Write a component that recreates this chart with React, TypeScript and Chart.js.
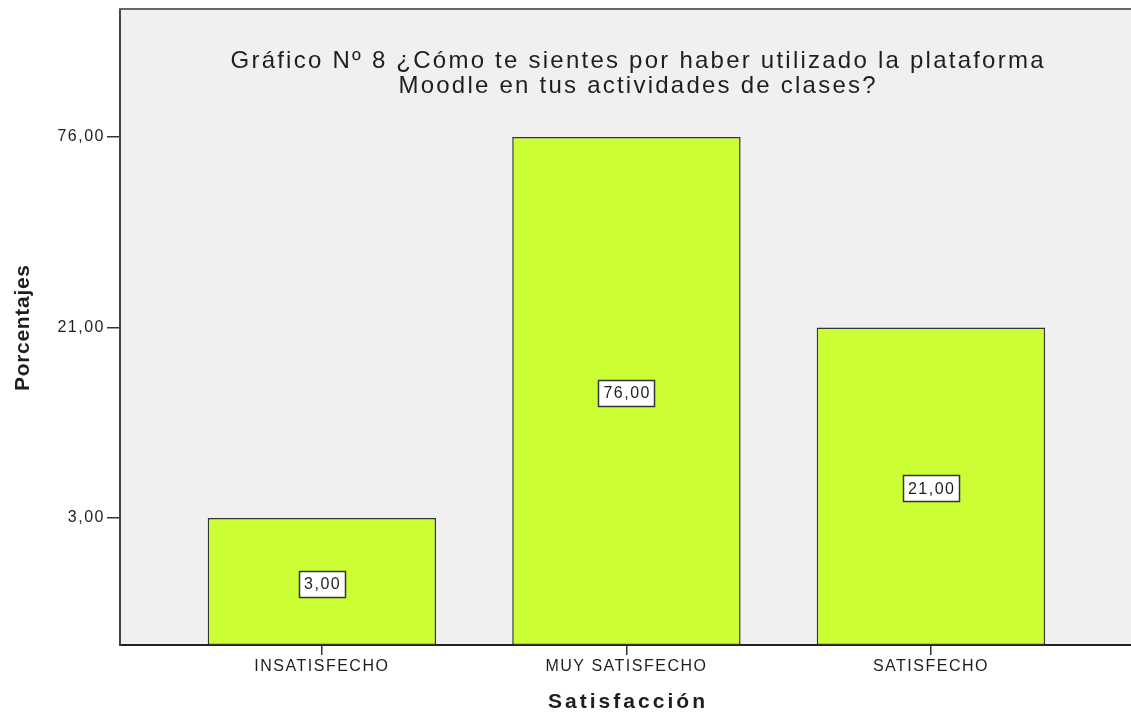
import React, { useEffect, useRef } from 'react';
import { Chart, registerables, LinearScale } from 'chart.js';

Chart.register(...registerables);

// ---------- data ----------
const CATEGORIES = ['INSATISFECHO', 'MUY SATISFECHO', 'SATISFECHO'];
const VALUES = [3, 76, 21];
const Y_TICKS = [3, 21, 76];
const TITLE_LINES = [
  'Gráfico Nº 8 ¿Cómo te sientes por haber utilizado la plataforma',
  'Moodle en tus actividades de clases?',
];
const X_TITLE = 'Satisfacción';
const Y_TITLE = 'Porcentajes';

// ---------- ordinal value axis (SPSS-style: each distinct value one step) ----------
const RANK_OFFSET = 2 / 3;
const RANK_TOP = 3.339;
const ANCHOR_VALUES = [0, ...Y_TICKS];
const ANCHOR_RANKS = [0, ...Y_TICKS.map((_, i) => i + RANK_OFFSET)];

function toRank(v: number): number {
  const vs = ANCHOR_VALUES;
  const rs = ANCHOR_RANKS;
  if (v <= vs[0]) return rs[0];
  for (let i = 1; i < vs.length; i++) {
    if (v <= vs[i]) {
      return rs[i - 1] + ((v - vs[i - 1]) / (vs[i] - vs[i - 1])) * (rs[i] - rs[i - 1]);
    }
  }
  const n = vs.length - 1;
  return rs[n] + ((v - vs[n]) / (vs[n] - vs[n - 1])) * (rs[n] - rs[n - 1]);
}
function fromRank(r: number): number {
  const vs = ANCHOR_VALUES;
  const rs = ANCHOR_RANKS;
  if (r <= rs[0]) return vs[0];
  for (let i = 1; i < rs.length; i++) {
    if (r <= rs[i]) {
      return vs[i - 1] + ((r - rs[i - 1]) / (rs[i] - rs[i - 1])) * (vs[i] - vs[i - 1]);
    }
  }
  const n = rs.length - 1;
  return vs[n] + ((r - rs[n]) / (rs[n] - rs[n - 1])) * (vs[n] - vs[n - 1]);
}

class RankScale extends LinearScale {
  getPixelForValue(value: any) {
    if (value === null || value === undefined || isNaN(value)) return NaN;
    return this.getPixelForDecimal(toRank(value) / RANK_TOP);
  }
  getValueForPixel(pixel: number) {
    return fromRank(this.getDecimalForPixel(pixel) * RANK_TOP);
  }
}
(RankScale as any).id = 'rank';
(RankScale as any).defaults = (LinearScale as any).defaults;
Chart.register(RankScale as any);

// ---------- styling ----------
const FONT_FAMILY = '"Liberation Sans", Arial, Helvetica, sans-serif';
const TEXT_COLOR = '#1e1e1e';
const BAR_COLOR = '#ccff33';
const PLOT_BG = '#f0f0f0';
const X_MIN = -0.663;
const X_MAX = 2.657;
const TITLE_CX = 637;
const TICK_SPACING = 1.5;

const fmt = (v: number) => v.toFixed(2).replace('.', ',');

function drawSpaced(
  ctx: CanvasRenderingContext2D,
  text: string,
  cx: number,
  y: number,
  font: string,
  target: number | null,
  spacing?: number
) {
  ctx.save();
  ctx.font = font;
  (ctx as any).letterSpacing = '0px';
  const w0 = ctx.measureText(text).width;
  const n = text.length;
  const sp = target !== null ? (target - w0) / Math.max(1, n - 1) : spacing || 0;
  (ctx as any).letterSpacing = sp + 'px';
  const vis = w0 + (n - 1) * sp;
  ctx.textAlign = 'left';
  ctx.fillText(text, cx - vis / 2, y);
  ctx.restore();
  return sp;
}

const customPlugin = {
  id: 'spssDecor',
  beforeDraw(chart: any) {
    const { ctx, chartArea } = chart;
    ctx.save();
    ctx.fillStyle = PLOT_BG;
    ctx.fillRect(chartArea.left, chartArea.top, chartArea.right - chartArea.left, chartArea.bottom - chartArea.top);
    ctx.restore();
    (ctx as any).letterSpacing = TICK_SPACING + 'px';
  },
  afterDraw(chart: any) {
    const { ctx, chartArea } = chart;
    ctx.save();
    (ctx as any).letterSpacing = '0px';
    ctx.strokeStyle = '#666666';
    ctx.lineWidth = 2;
    ctx.beginPath();
    ctx.moveTo(chartArea.left - 1, chartArea.top);
    ctx.lineTo(chartArea.right, chartArea.top);
    ctx.stroke();

    // chart title
    ctx.fillStyle = TEXT_COLOR;
    ctx.textBaseline = 'alphabetic';
    const titleFont = `24px ${FONT_FAMILY}`;
    const sp = drawSpaced(ctx, TITLE_LINES[0], TITLE_CX, 68, titleFont, 813);
    drawSpaced(ctx, TITLE_LINES[1], TITLE_CX, 93, titleFont, null, sp);

    // x title
    const cx = (chartArea.left + chartArea.right) / 2 + 1;
    drawSpaced(ctx, X_TITLE, cx, 708, `bold 21px ${FONT_FAMILY}`, 157);

    // y title (rotated)
    ctx.save();
    ctx.translate(29, (chartArea.top + chartArea.bottom) / 2 + 1);
    ctx.rotate(-Math.PI / 2);
    drawSpaced(ctx, Y_TITLE, 0, 0, `bold 21px ${FONT_FAMILY}`, 126);
    ctx.restore();

    // value labels inside bars
    const meta = chart.getDatasetMeta(0);
    const ds = chart.data.datasets[0];
    meta.data.forEach((bar: any, i: number) => {
      const raw = ds.data[i] as any;
      const text = fmt(raw.y);
      ctx.font = `16px ${FONT_FAMILY}`;
      (ctx as any).letterSpacing = TICK_SPACING + 'px';
      const tw = ctx.measureText(text).width - TICK_SPACING;
      const bw = Math.round(tw + 10);
      const bh = 26;
      const mx = bar.x;
      const my = (bar.y + bar.base) / 2 + 2;
      const lx = Math.round(mx - bw / 2) + 0.5;
      const ty = Math.round(my - bh / 2) + 0.5;
      ctx.fillStyle = '#ffffff';
      ctx.fillRect(lx, ty, bw, bh);
      ctx.strokeStyle = '#333333';
      ctx.lineWidth = 1.5;
      ctx.strokeRect(lx, ty, bw, bh);
      ctx.fillStyle = TEXT_COLOR;
      ctx.textAlign = 'left';
      ctx.textBaseline = 'middle';
      ctx.fillText(text, mx - tw / 2, my + 1);
    });
    ctx.restore();
  },
};

export default function App() {
  const canvasRef = useRef<HTMLCanvasElement | null>(null);

  useEffect(() => {
    const canvas = canvasRef.current;
    if (!canvas) return;
    const tickFont = { family: FONT_FAMILY, size: 16 };
    const chart = new Chart(canvas, {
      type: 'bar',
      data: {
        datasets: [
          {
            data: VALUES.map((v, i) => ({ x: i, y: v })),
            backgroundColor: BAR_COLOR,
            borderColor: '#333333',
            borderWidth: 1.5,
            borderSkipped: false,
            categoryPercentage: 1,
            barPercentage: 0.75,
          } as any,
        ],
      },
      options: {
        responsive: false,
        animation: false,
        layout: { padding: { top: 9, left: 0, right: 0, bottom: 0 } },
        plugins: {
          legend: { display: false },
          tooltip: { enabled: false },
          title: { display: false },
        },
        scales: {
          x: {
            type: 'linear',
            min: X_MIN,
            max: X_MAX,
            offset: false,
            grid: {
              display: true,
              offset: false,
              drawOnChartArea: false,
              drawTicks: true,
              tickLength: 10,
              color: '#333333',
              lineWidth: 1.5,
            },
            border: { display: true, color: '#222222', width: 2 },
            ticks: {
              font: tickFont,
              color: TEXT_COLOR,
              padding: 2,
              maxRotation: 0,
              autoSkip: false,
              callback: (v: any) => CATEGORIES[v] ?? '',
            },
            afterBuildTicks: (s: any) => {
              s.ticks = CATEGORIES.map((_, i) => ({ value: i }));
            },
            afterFit: (s: any) => {
              s.height = 70;
              s.paddingLeft = 0;
              s.paddingRight = 0;
            },
          },
          y: {
            type: 'rank' as any,
            min: 0,
            max: 76,
            beginAtZero: true,
            grid: {
              display: true,
              drawOnChartArea: false,
              drawTicks: true,
              tickLength: 13,
              color: '#333333',
              lineWidth: 1.5,
            },
            border: { display: true, color: '#444444', width: 2 },
            ticks: {
              font: tickFont,
              color: TEXT_COLOR,
              padding: 2,
              callback: (v: any) => fmt(Number(v)),
            },
            afterBuildTicks: (s: any) => {
              s.ticks = Y_TICKS.map((v) => ({ value: v }));
            },
            afterFit: (s: any) => {
              s.width = 120;
              s.paddingTop = 0;
              s.paddingBottom = 0;
            },
          } as any,
        },
      },
      plugins: [customPlugin],
    });
    return () => chart.destroy();
  }, []);

  return (
    <div style={{ position: 'absolute', left: 0, top: 0, width: 1131, height: 715, background: '#ffffff' }}>
      <canvas ref={canvasRef} width={1131} height={715} style={{ display: 'block' }} />
    </div>
  );
}
